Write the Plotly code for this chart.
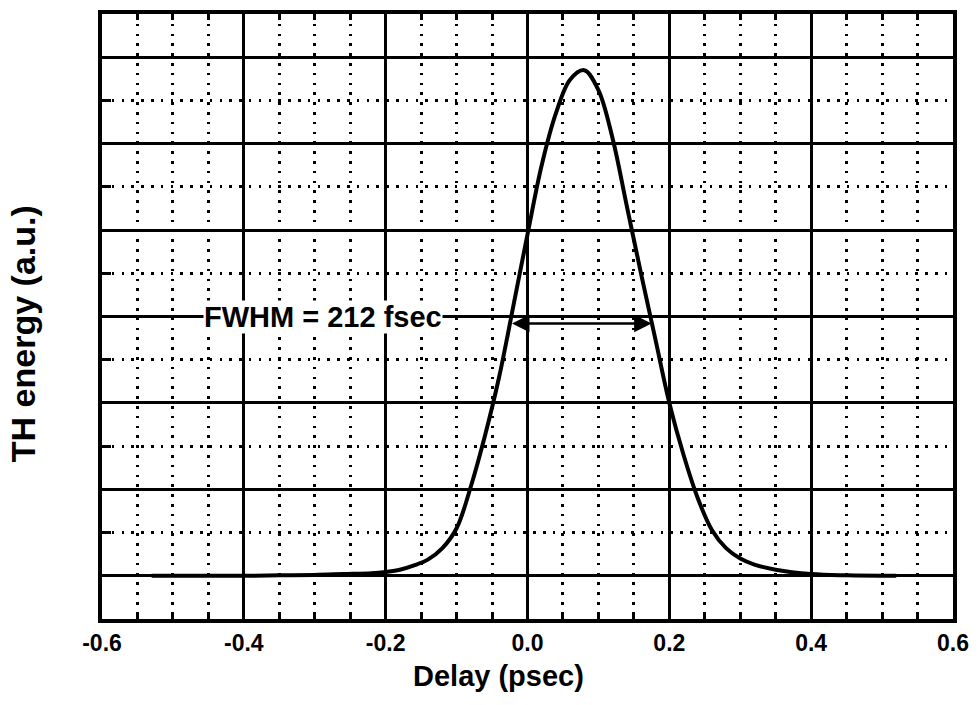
import plotly.graph_objects as go

# Curve (delay in psec, TH energy in grid units)
DELAY_PS = [-0.53, -0.45, -0.40, -0.35, -0.30, -0.26, -0.22, -0.20, -0.18, -0.16,
            -0.14, -0.12, -0.10, -0.08, -0.06, -0.04, -0.02, 0.00, 0.02, 0.04,
            0.06, 0.08, 0.10, 0.12, 0.14, 0.16, 0.18, 0.20, 0.22, 0.24,
            0.26, 0.28, 0.30, 0.32, 0.35, 0.40, 0.45, 0.52]
TH_ENERGY = [0.00, 0.00, 0.00, 0.005, 0.01, 0.02, 0.03, 0.045, 0.07, 0.12,
             0.19, 0.32, 0.55, 1.03, 1.62, 2.30, 3.12, 3.95, 4.75, 5.35,
             5.74, 5.85, 5.62, 5.06, 4.28, 3.50, 2.75, 2.00, 1.40, 0.90,
             0.53, 0.32, 0.20, 0.13, 0.07, 0.02, 0.005, 0.00]

X_TICK_VALUES = [-0.6, -0.4, -0.2, 0.0, 0.2, 0.4, 0.6]
X_TICK_LABELS = ["-0.6", "-0.4", "-0.2", "0.0", "0.2", "0.4", "0.6"]

FWHM_LABEL = "FWHM = 212 fsec"
FWHM_LEFT, FWHM_RIGHT, FWHM_LEVEL = -0.024, 0.175, 2.92
FWHM_TEXT_X, FWHM_TEXT_Y = -0.288, 3.0

X_TITLE = "Delay (psec)"
Y_TITLE = "TH energy (a.u.)"

FONT = "Liberation Sans, Arial, sans-serif"
DOTS = "2.5px,7.3px"

fig = go.Figure()
fig.add_trace(go.Scatter(
    x=DELAY_PS, y=TH_ENERGY, mode="lines",
    line=dict(color="black", width=4, shape="spline", smoothing=1.0),
    showlegend=False, hoverinfo="skip",
))

fig.update_xaxes(
    range=[-0.6, 0.6],
    tickmode="array", tickvals=X_TICK_VALUES, ticktext=X_TICK_LABELS,
    showgrid=True, gridcolor="black", gridwidth=2.5,
    zeroline=False,
    showline=True, linecolor="black", linewidth=4, mirror="allticks",
    ticks="inside", ticklen=7, tickwidth=3, tickcolor="black",
    ticklabelstandoff=0,
    tickfont=dict(family=FONT, size=23, color="black", weight="bold"),
    minor=dict(tickmode="linear", tick0=0, dtick=0.05,
               showgrid=True, gridcolor="black", gridwidth=2.5, griddash=DOTS,
               ticks="inside", ticklen=6, tickwidth=3, tickcolor="black"),
)
fig.update_yaxes(
    range=[-0.5, 6.5],
    tickmode="linear", tick0=0, dtick=1,
    showticklabels=False,
    showgrid=True, gridcolor="black", gridwidth=2.5,
    zeroline=False,
    showline=True, linecolor="black", linewidth=4, mirror=True,
    ticks="inside", ticklen=9, tickwidth=3, tickcolor="black",
    minor=dict(tickmode="linear", tick0=0, dtick=0.5,
               showgrid=True, gridcolor="black", gridwidth=2.5, griddash=DOTS,
               ticks="inside", ticklen=9, tickwidth=3, tickcolor="black"),
)

# FWHM double arrow
fig.add_annotation(
    x=FWHM_RIGHT, y=FWHM_LEVEL, ax=FWHM_LEFT, ay=FWHM_LEVEL,
    xref="x", yref="y", axref="x", ayref="y", text="",
    showarrow=True, arrowhead=2, arrowside="end+start", arrowsize=1.4,
    arrowwidth=2.5, arrowcolor="black", standoff=0, startstandoff=0,
)
# FWHM label
fig.add_annotation(
    x=FWHM_TEXT_X, y=FWHM_TEXT_Y, xref="x", yref="y", text=FWHM_LABEL,
    showarrow=False, xanchor="center", yanchor="middle",
    bgcolor="white", borderpad=0,
    font=dict(family=FONT, size=29, color="black", weight="bold"),
)
# Axis titles
fig.add_annotation(
    x=0.466, y=-0.095, xref="paper", yref="paper", text=X_TITLE,
    showarrow=False, xanchor="center", yanchor="middle",
    font=dict(family=FONT, size=29, color="black", weight="bold"),
)
fig.add_annotation(
    x=-0.092, y=0.472, xref="paper", yref="paper", text=Y_TITLE,
    showarrow=False, xanchor="center", yanchor="middle", textangle=-90,
    font=dict(family=FONT, size=34, color="black", weight="bold"),
)

fig.update_layout(
    width=979, height=705,
    margin=dict(l=102, r=21, t=10, b=86),
    paper_bgcolor="white", plot_bgcolor="white",
    showlegend=False,
)

fig.write_html("out.html")
